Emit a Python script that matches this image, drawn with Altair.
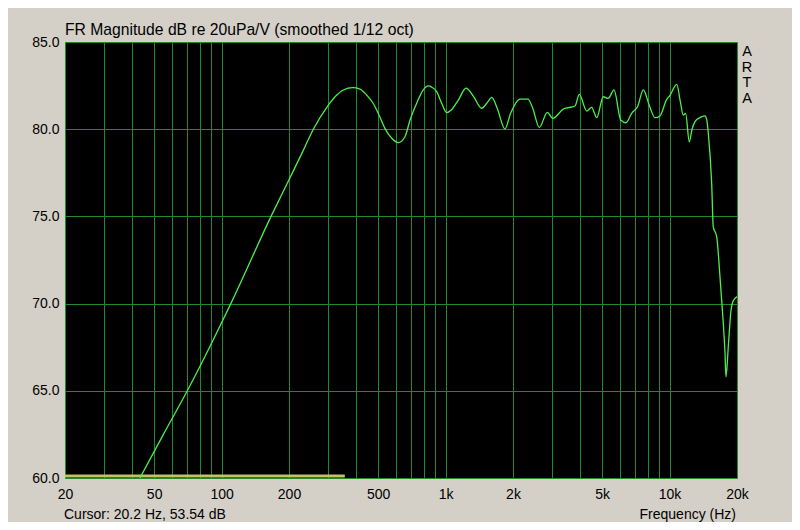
import altair as alt
import pandas as pd

# ---- data ----
freq_hz = [43.2, 55, 70.3, 90, 110, 166.3, 200, 230, 256.8, 296.6, 321, 350, 385, 415,
           445, 475, 505, 536, 575, 615, 659, 694, 748, 790, 837, 870, 913, 960, 1012, 1060,
           1140, 1234, 1330, 1450, 1530, 1608, 1700, 1842, 1950, 2149, 2333, 2450, 2620, 2847,
           3009, 3357, 3784, 3954, 4266, 4489, 4731, 5059, 5323, 5650, 6053, 6384, 6773, 7200,
           7636, 8100, 8611, 9060, 9709, 10000, 10763, 11200, 11513, 11800, 12245, 12600, 12988,
           13600, 14390, 14660, 14890, 15415, 15670, 16230, 16790, 17080, 17680, 17860, 18280,
           18800, 19150, 20000]
level_db = [60.0, 62.5, 65.0, 67.7, 70.0, 75.0, 77.1, 78.7, 80.0, 81.3, 81.86, 82.25, 82.38, 82.3,
            81.95, 81.49, 80.8, 80.05, 79.48, 79.23, 79.57, 80.53, 81.58, 82.2, 82.48, 82.4, 82.15, 81.5, 80.95, 81.1,
            81.67, 82.35, 81.9, 81.2, 81.5, 81.83, 81.2, 80.01, 80.9, 81.73, 81.73, 81.2, 80.1, 80.97,
            80.62, 81.16, 81.33, 82.0, 81.04, 81.25, 80.66, 81.86, 81.77, 82.25, 80.53, 80.37, 80.91, 81.3,
            82.25, 81.4, 80.66, 80.76, 81.71, 81.9, 82.57, 81.5, 80.81, 80.9, 79.28, 80.0, 80.43,
            80.65, 80.76, 80.53, 79.76, 76.9, 74.4, 73.84, 71.54, 70.2, 67.15, 65.8, 67.5,
            69.6, 70.1, 70.4]

cursor_freq = [20, 355]
cursor_db = [60.12, 60.12]

grid_x = [20, 30, 40, 50, 60, 70, 80, 90, 100, 200, 300, 400, 500, 600, 700, 800, 900,
          1000, 2000, 3000, 4000, 5000, 6000, 7000, 8000, 9000, 10000, 20000]
label_x = [20, 50, 100, 200, 500, 1000, 2000, 5000, 10000, 20000]
label_text = ["20", "50", "100", "200", "500", "1k", "2k", "5k", "10k", "20k"]
y_ticks = [60, 65, 70, 75, 80, 85]

title_text = "FR Magnitude dB re 20uPa/V (smoothed 1/12 oct)"
cursor_text = "Cursor: 20.2 Hz, 53.54 dB"
xlabel_text = "Frequency (Hz)"
brand = ["A", "R", "T", "A"]

W, H = 672, 436
FONT = "Liberation Sans"
GRID = "#218a2c"

label_expr = " : ".join(f"datum.value == {v} ? '{t}'" for v, t in zip(label_x, label_text)) + " : ''"

curve_df = pd.DataFrame({"f": freq_hz, "db": level_db})
cursor_df = pd.DataFrame({"f": cursor_freq, "db": cursor_db})

x_enc = alt.X("f:Q",
              scale=alt.Scale(type="log", domain=[20, 20000], nice=False),
              axis=alt.Axis(values=grid_x, labelExpr=label_expr, title=None))
y_enc = alt.Y("db:Q",
              scale=alt.Scale(domain=[60, 85], nice=False, zero=False),
              axis=alt.Axis(values=y_ticks, format=".1f", title=None))

cursor_line = alt.Chart(cursor_df).mark_line(color="#c8c05a", strokeWidth=3, clip=True).encode(
    x=x_enc, y=y_enc)

curve = alt.Chart(curve_df).mark_line(color="#4cf04c", strokeWidth=1.3, clip=True,
                                      interpolate="monotone").encode(x=x_enc, y=y_enc)

one = alt.Data(values=[{}])
cursor_lbl = alt.Chart(one).mark_text(text=cursor_text, align="left", baseline="middle",
                                      font=FONT, fontSize=14, color="black").encode(
    x=alt.value(-1), y=alt.value(H + 37))
freq_lbl = alt.Chart(one).mark_text(text=xlabel_text, align="right", baseline="middle",
                                    font=FONT, fontSize=14, color="black").encode(
    x=alt.value(W - 1), y=alt.value(H + 37))
brand_lbl = alt.Chart(one).mark_text(text=brand, align="center", baseline="top", lineHeight=15.7,
                                     font=FONT, fontSize=14.5, color="black").encode(
    x=alt.value(W + 10), y=alt.value(3))

chart = alt.layer(cursor_line, curve, cursor_lbl, freq_lbl, brand_lbl).properties(
    width=W, height=H,
    autosize=alt.AutoSizeParams(type="none"),
    padding={"left": 57, "top": 34, "right": 55, "bottom": 44},
    background="#d4d0c8",
    title=alt.TitleParams(title_text, anchor="start", frame="group", font=FONT, fontSize=15.7,
                          fontWeight="normal", color="black", offset=-4),
).configure_view(
    fill="black", stroke="#3cc83c", strokeWidth=1
).configure_axis(
    grid=True, gridColor=GRID, gridWidth=1, gridOpacity=1,
    ticks=False, domain=False,
    labelFont=FONT, labelFontSize=14, labelColor="black",
    labelOverlap=False, labelFlush=False,
).configure_axisX(
    labelPadding=9
).configure_axisY(
    labelPadding=6
)

chart.save("out.html", embed_options={"renderer": "svg", "actions": False})
